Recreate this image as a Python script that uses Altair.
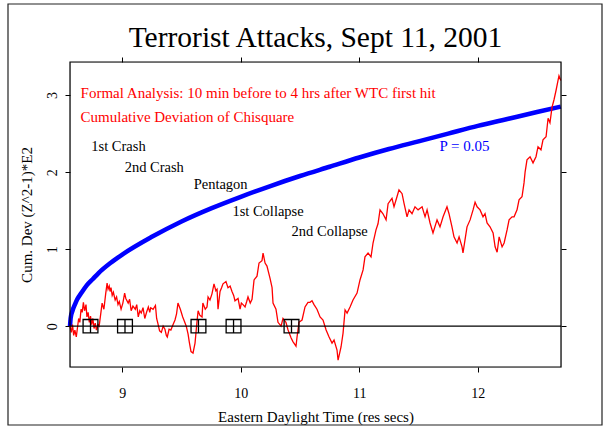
import altair as alt
import pandas as pd

# ---- data ----
red_t = [8.559, 8.570, 8.580, 8.590, 8.600, 8.612, 8.622, 8.632, 8.642, 8.652, 8.662, 8.672,
         8.682, 8.694, 8.702, 8.712, 8.722, 8.732, 8.742, 8.752, 8.762, 8.772, 8.782, 8.795,
         8.805, 8.815, 8.830, 8.845, 8.860, 8.872, 8.880, 8.890, 8.897, 8.905, 8.915, 8.925,
         8.940, 8.952, 8.964, 8.975, 8.990, 9.005, 9.020, 9.030, 9.050, 9.062, 9.075, 9.090,
         9.110, 9.122, 9.135, 9.148, 9.160, 9.175, 9.190, 9.205, 9.220, 9.232, 9.240, 9.260,
         9.280, 9.290, 9.300, 9.315, 9.330, 9.345, 9.360, 9.372, 9.380, 9.395, 9.410, 9.428,
         9.445, 9.458, 9.470, 9.490, 9.510, 9.525, 9.540, 9.555, 9.565, 9.580, 9.597, 9.614,
         9.630, 9.640, 9.655, 9.673, 9.680, 9.700, 9.715, 9.724, 9.740, 9.757, 9.774, 9.790,
         9.800, 9.808, 9.825, 9.838, 9.850, 9.875, 9.892, 9.910, 9.926, 9.940, 9.951, 9.977,
         9.994, 10.005, 10.019, 10.036, 10.050, 10.061, 10.080, 10.095, 10.112, 10.137, 10.154,
         10.179, 10.188, 10.205, 10.221, 10.247, 10.264, 10.272, 10.297, 10.314, 10.340, 10.356,
         10.381, 10.399, 10.424, 10.440, 10.466, 10.474, 10.491, 10.517, 10.542, 10.567, 10.584,
         10.601, 10.618, 10.643, 10.669, 10.694, 10.720, 10.745, 10.770, 10.787, 10.812, 10.821,
         10.846, 10.863, 10.880, 10.897, 10.922, 10.947, 10.981, 11.006, 11.032, 11.048, 11.074,
         11.099, 11.116, 11.141, 11.158, 11.175, 11.200, 11.226, 11.243, 11.276, 11.293, 11.318,
         11.335, 11.361, 11.378, 11.403, 11.420, 11.445, 11.470, 11.496, 11.530, 11.555, 11.572,
         11.597, 11.622, 11.656, 11.681, 11.707, 11.740, 11.757, 11.782, 11.799, 11.825, 11.842,
         11.867, 11.875, 11.892, 11.909, 11.935, 11.960, 11.977, 11.994, 12.019, 12.044, 12.061,
         12.078, 12.103, 12.129, 12.146, 12.163, 12.180, 12.205, 12.222, 12.247, 12.264, 12.289,
         12.306, 12.331, 12.348, 12.373, 12.390, 12.399, 12.415, 12.441, 12.466, 12.491, 12.508,
         12.533, 12.550, 12.576, 12.593, 12.609, 12.626, 12.643, 12.660, 12.677, 12.685, 12.700]
red_v = [0.00, -0.08, 0.02, -0.12, -0.05, -0.14, -0.02, 0.10, 0.05, 0.22, 0.18, 0.31,
         0.20, 0.28, 0.12, 0.18, 0.05, 0.13, 0.02, 0.10, -0.03, 0.04, -0.05, 0.02,
         0.00, 0.12, 0.30, 0.22, 0.42, 0.56, 0.48, 0.52, 0.45, 0.50, 0.40, 0.44,
         0.34, 0.38, 0.28, 0.32, 0.22, 0.30, 0.43, 0.36, 0.30, 0.35, 0.20, 0.26,
         0.22, 0.28, 0.12, 0.20, 0.17, 0.24, 0.10, 0.18, 0.25, 0.18, 0.24, 0.22,
         0.27, 0.10, 0.04, -0.06, -0.08, 0.00, -0.04, -0.12, -0.14, -0.04, -0.05, 0.02,
         0.08, 0.16, 0.30, 0.22, 0.12, 0.06, 0.00, -0.10, -0.20, -0.33, -0.35, -0.22,
         0.05, 0.20, 0.14, 0.12, 0.30, 0.22, 0.25, 0.38, 0.34, 0.42, 0.55, 0.46,
         0.48, 0.22, 0.45, 0.50, 0.55, 0.58, 0.50, 0.52, 0.45, 0.40, 0.33, 0.36,
         0.22, 0.30, 0.28, 0.25, 0.32, 0.38, 0.30, 0.35, 0.60, 0.65, 0.82,
         0.85, 0.95, 0.82, 0.78, 0.62, 0.50, 0.30, 0.22, 0.05, 0.00, 0.10,
         0.05, -0.05, -0.15, -0.20, -0.26, -0.15, 0.05, 0.08, 0.25, 0.31, 0.31,
         0.33, 0.28, 0.22, 0.12, 0.08, -0.05, -0.14, -0.22, -0.18, -0.31, -0.44,
         -0.27, -0.09, 0.21, 0.17, 0.25, 0.34, 0.43, 0.60, 0.73, 0.90, 0.95,
         0.90, 1.08, 1.25, 1.33, 1.51, 1.46, 1.38, 1.59, 1.66, 1.55, 1.68,
         1.77, 1.72, 1.59, 1.42, 1.51, 1.46, 1.55, 1.51, 1.55, 1.42, 1.51,
         1.34, 1.21, 1.38, 1.29, 1.42, 1.55, 1.46, 1.29, 1.16, 1.08, 1.16,
         1.03, 0.95, 1.12, 1.29, 1.38, 1.51, 1.61, 1.55, 1.51, 1.42, 1.46,
         1.34, 1.29, 1.21, 1.03, 0.96, 1.16, 1.03, 1.08, 1.25, 1.38, 1.42,
         1.42, 1.51, 1.64, 1.68, 1.86, 2.00, 2.16, 2.20, 2.12, 2.20, 2.33,
         2.29, 2.42, 2.46, 2.70, 2.64, 2.84, 2.94, 3.06, 3.19, 3.25, 3.19]

blue_t = [8.559, 8.565, 8.580, 8.600, 8.620, 8.650, 8.700, 8.750, 8.800, 8.900, 9.000,
          9.250, 9.500, 9.750, 10.000, 10.250, 10.500, 10.750, 11.000, 11.250, 11.500,
          11.750, 12.000, 12.250, 12.500, 12.700]
blue_v = [0.00, 0.11, 0.20, 0.28, 0.35, 0.42, 0.53, 0.61, 0.69, 0.82, 0.93,
          1.16, 1.36, 1.53, 1.68, 1.82, 1.95, 2.07, 2.19, 2.30, 2.40,
          2.50, 2.60, 2.69, 2.78, 2.85]

event_t = [8.732, 9.023, 9.643, 9.939, 10.428]
event_names = ["1st Crash", "2nd Crash", "Pentagon", "1st Collapse", "2nd Collapse"]
label_t = [8.968, 9.270, 9.830, 10.230, 10.750]
label_v = [2.32, 2.06, 1.83, 1.48, 1.22]

red_notes = ["Formal Analysis: 10 min before to 4 hrs after WTC first hit",
             "Cumulative Deviation of Chisquare"]
red_note_t = [8.648, 8.648]
red_note_v = [3.03, 2.71]

p_label = "P = 0.05"
p_t, p_v = 11.888, 2.34

title_text = "Terrorist Attacks, Sept 11, 2001"
x_title = "Eastern Daylight Time (res secs)"
y_title = "Cum. Dev (Z^2-1)*E2"

x_ticks = [9, 10, 11, 12]
y_ticks = [0, 1, 2, 3]
x_dom = [8.559, 12.702]
y_dom = [-0.53, 3.43]

FONT = "Liberation Serif"
W, H = 491, 305

red_df = pd.DataFrame({"t": red_t, "v": red_v})
blue_df = pd.DataFrame({"t": blue_t, "v": blue_v})
ev_df = pd.DataFrame({"t": event_t, "v": [0] * len(event_t)})
lab_df = pd.DataFrame({"t": label_t, "v": label_v, "name": event_names})
note_df = pd.DataFrame({"t": red_note_t, "v": red_note_v, "txt": red_notes})
p_df = pd.DataFrame({"t": [p_t], "v": [p_v], "txt": [p_label]})
one = pd.DataFrame({"a": [0]})

xs = alt.Scale(domain=x_dom, nice=False, zero=False)
ys = alt.Scale(domain=y_dom, nice=False, zero=False)

ax_common = dict(grid=False, domain=False, tickColor="black", tickSize=5, tickWidth=1,
                 labelFont=FONT, labelFontSize=14, labelColor="black",
                 titleFont=FONT, titleFontSize=15, titleFontWeight="normal", titleColor="black")

xb = alt.X("t:Q", scale=xs, axis=alt.Axis(values=x_ticks, title=x_title,
                                          labelPadding=14, titlePadding=9, **ax_common))
yl = alt.Y("v:Q", scale=ys, axis=alt.Axis(values=y_ticks, title=y_title,
                                          labelAngle=-90, labelAlign="center",
                                          labelBaseline="bottom", labelPadding=6,
                                          titlePadding=11, **ax_common))

red = alt.Chart(red_df).mark_line(color="#ff0000", strokeWidth=1.3).encode(x=xb, y=yl)

xt = alt.X("t:Q", scale=xs, axis=alt.Axis(orient="top", values=x_ticks, labels=False,
                                          title=None, **ax_common))
yr = alt.Y("v:Q", scale=ys, axis=alt.Axis(orient="right", values=y_ticks, labels=False,
                                          title=None, **ax_common))
blue = alt.Chart(blue_df).mark_line(color="#0000ff", strokeWidth=4.5, interpolate="monotone").encode(
    x=xt, y=yr)

zero = alt.Chart(pd.DataFrame({"v": [0]})).mark_rule(color="black", strokeWidth=1.2).encode(
    y=alt.Y("v:Q", scale=ys, axis=None))

marks = alt.Chart(ev_df).mark_point(
    shape="M-1,-0.9L1,-0.9L1,0.9L-1,0.9Z M0,-0.9L0,0.9",
    filled=False, color="black", strokeWidth=1.3, size=220, opacity=1).encode(
    x=alt.X("t:Q", scale=xs, axis=None), y=alt.Y("v:Q", scale=ys, axis=None))

labels = alt.Chart(lab_df).mark_text(font=FONT, fontSize=14.5, color="black").encode(
    x=alt.X("t:Q", scale=xs, axis=None), y=alt.Y("v:Q", scale=ys, axis=None), text="name:N")

notes = alt.Chart(note_df).mark_text(font=FONT, fontSize=15, color="#ff0000", align="left").encode(
    x=alt.X("t:Q", scale=xs, axis=None), y=alt.Y("v:Q", scale=ys, axis=None), text="txt:N")

ptext = alt.Chart(p_df).mark_text(font=FONT, fontSize=15, color="#0000ff").encode(
    x=alt.X("t:Q", scale=xs, axis=None), y=alt.Y("v:Q", scale=ys, axis=None), text="txt:N")

outer = alt.Chart(one).mark_rect(
    fillOpacity=0, stroke="#222", strokeWidth=1.2, clip=False).encode(
    x=alt.value(-62), x2=alt.value(532), y=alt.value(-58), y2=alt.value(363))

plotbox = alt.Chart(one).mark_rect(
    fillOpacity=0, stroke="black", strokeWidth=1.2, clip=False).encode(
    x=alt.value(0), x2=alt.value(W), y=alt.value(0), y2=alt.value(H))

title = alt.Chart(pd.DataFrame({"txt": [title_text]})).mark_text(
    font=FONT, fontSize=29.5, color="black", baseline="alphabetic", align="center").encode(
    x=alt.value(W / 2), y=alt.value(-15), text="txt:N")

chart = alt.layer(outer, blue, red, zero, marks, labels, notes, ptext, plotbox, title).resolve_axis(
    x="independent", y="independent"
).properties(
    width=W, height=H,
    autosize=alt.AutoSizeParams(type="none"),
    padding={"left": 70, "top": 62, "right": 50, "bottom": 63},
).configure_view(stroke=None).configure(background="white")

chart.save("out.html", embed_options={"renderer": "svg", "actions": False})
